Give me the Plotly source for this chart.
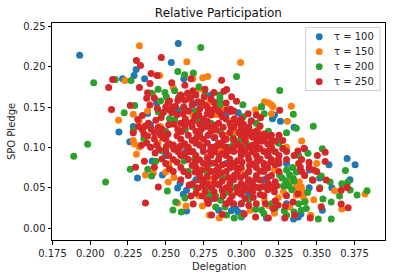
import plotly.graph_objects as go

TITLE = "Relative Participation"
XLABEL = "Delegation"
YLABEL = "SPO Pledge"
X_TICKS = [0.175, 0.200, 0.225, 0.250, 0.275, 0.300, 0.325, 0.350, 0.375]
Y_TICKS = [0.00, 0.05, 0.10, 0.15, 0.20, 0.25]
NAMES = ["τ = 100", "τ = 150", "τ = 200", "τ = 250"]
COLORS = ["#1f77b4", "#ff7f0e", "#2ca02c", "#d62728"]

tau100 = [(.193,.214),(.2583,.2286),(.2537,.205),(.2304,.1965),(.229,.189),(.2214,.185),(.236,.185),(.262,.185),
 (.219,.119),(.2313,.062),(.2478,.0656),(.2579,.0496),(.2638,.0212),(.2616,.0418),(.2638,.0467),
 (.3134,.1502),(.298,.1429),(.3207,.1354),(.3068,.1329),(.326,.1323),(.3701,.0862),(.3754,.0784),(.3581,.0784),
 (.3537,.022),(.3378,.0138),(.3347,.0113),(.3167,.0126),(.298,.02),(.3002,.0138),(.2285,.126),(.2262,.107),
 (.24,.128),(.246,.118),(.2475,.142),(.258,.146),(.264,.165),(.282,.112),(.29,.08),(.27,.06),(.28,.036),(.292,.032),
 (.295,.026),(.305,.042),(.315,.06),(.318,.09),(.33,.08),(.345,.072),(.342,.098),(.352,.062),(.29,.14),(.275,.128),
 (.262,.098),(.25,.09),(.238,.142),(.244,.155),(.31,.115),(.325,.11),(.335,.125),(.305,.07),(.36,.05),(.372,.06),
 (.285,.022),(.3,.03),(.33,.03),(.345,.05),(.241,.083),(.27,.155),(.28,.165),(.322,.14),
 (.3,.1215),(.2935,.0215),(.2965,.0235),(.301,.0185),(.3395,.0175),(.2665,.0535),(.2595,.0555),(.2575,.0975),(.2665,.1445)]

tau150 = [(.2326,.226),(.264,.206),(.223,.183),(.2188,.1335),(.246,.189),(.2996,.205),(.2745,.1862),(.2778,.1879),
 (.3332,.1508),(.3306,.1323),(.3154,.1564),(.318,.1552),(.32,.1527),(.3211,.1502),(.32,.1416),(.3095,.1465),
 (.382,.0422),(.3666,.0237),(.3618,.0463),(.322,.0183),(.2855,.0126),(.2789,.0163),(.2743,.0274),(.346,.0158),
 (.3321,.0261),(.3411,.0385),(.3398,.0508),(.2306,.0916),(.2293,.1043),(.2366,.0656),(.2517,.057),(.25,.0694),
 (.2634,.0274),(.2579,.0311),(.2418,.0681),(.268,.185),(.272,.172),(.2415,.166),(.2285,.141),(.238,.145),(.2465,.126),
 (.2325,.133),(.2505,.115),(.26,.1),(.252,.079),(.268,.14),(.2775,.153),(.287,.148),(.2945,.133),(.3,.128),(.303,.11),
 (.2915,.05),(.3,.045),(.315,.04),(.328,.045),(.336,.05),(.342,.065),(.318,.028),(.306,.022),(.35,.08),(.34,.108),
 (.33,.1),(.28,.06),(.272,.04),(.262,.16),(.255,.174),(.29,.115),(.312,.098),(.322,.072),(.271,.11),(.286,.098),
 (.3,.072),(.245,.105),(.333,.06),(.312,.05),(.348,.035),
 (.3405,.0455),(.3385,.0575),(.3425,.0335),(.3365,.0405),(.3155,.0335),(.3245,.0375),(.2795,.1565),(.2835,.1405),
 (.2285,.1085),(.2325,.1005),(.2555,.0625),(.2965,.1185),(.3115,.1235),(.3295,.0405)]

tau200 = [(.2732,.2237),(.2969,.1879),(.3255,.1706),(.3345,.141),(.3365,.1237),(.3477,.1261),(.2859,.1648),(.2859,.1605),
 (.2859,.1564),(.2859,.153),(.3011,.1527),(.3013,.138),(.3134,.1502),(.3152,.1416),(.2023,.18),(.258,.194),(.227,.183),
 (.2166,.184),(.2683,.192),(.2625,.19),(.1983,.1039),(.1891,.0891),(.2102,.057),(.2265,.073),(.2381,.073),(.2407,.0644),
 (.2511,.0459),(.2566,.0323),(.2548,.0224),(.2603,.02),(.2627,.0373),(.2434,.0829),(.2473,.0957),
 (.3537,.0982),(.369,.0714),(.3442,.0928),(.3833,.0463),(.3767,.041),(.3721,.0471),(.3706,.057),(.3666,.055),(.3596,.0323),
 (.3596,.0113),(.351,.0113),(.3651,.0397),(.3541,.036),(.353,.0644),(.3589,.057),(.342,.0323),(.3398,.022),(.3431,.0241),
 (.2954,.0126),(.2903,.0163),(.2831,.0261),(.2892,.0261),(.3095,.0233),(.2295,.152),(.2225,.143),(.2285,.121),(.2355,.111),
 (.245,.172),(.2405,.167),(.2495,.168),(.256,.17),(.2665,.163),(.272,.175),(.276,.166),(.245,.144),(.256,.134),
 (.263,.122),(.27,.145),(.28,.13),(.295,.105),(.3,.112),(.305,.122),(.255,.1),(.262,.083),(.272,.07),(.28,.08),(.288,.062),
 (.296,.05),(.305,.035),(.32,.03),(.328,.052),(.332,.066),(.335,.058),(.33,.072),(.327,.062),(.334,.075),(.338,.09),(.325,.105),
 (.318,.12),(.31,.13),(.33,.118),(.347,.06),(.352,.05),(.344,.044),(.338,.03),(.335,.02),(.33,.016),(.315,.018),(.3,.015),
 (.277,.05),(.283,.04),(.27,.05),(.265,.07),(.25,.12),(.286,.12),(.292,.1),
 (.3335,.0475),(.3295,.0585),(.3255,.0655),(.3365,.0695),(.3315,.0525),(.3345,.0615),(.2985,.1075),(.2945,.1115),(.3035,.1045),
 (.2525,.1355),(.2615,.1485),(.2715,.1335),(.2785,.0415),(.2865,.0345),(.2905,.0445),(.3135,.0225),(.3225,.0245),(.3285,.0215),
 (.2465,.1575),(.2505,.1625),(.2585,.1615),(.2695,.0865),(.2775,.0685)]

tau250 = [(.2306,.2076),(.2333,.2014),(.2471,.2113),(.2403,.1916),(.2443,.189),(.2148,.184),(.2122,.1743),(.2326,.1743),
 (.254,.18),(.2396,.179),(.2667,.185),(.2627,.177),(.2141,.147),(.2265,.152),(.2374,.1607),(.238,.1677),(.2425,.1607),
 (.287,.1833),(.3255,.1459),(.2903,.1718),(.2936,.1628),(.2969,.157),(.3046,.1416),(.3128,.1366),(.293,.1473),(.293,.1444),
 (.23,.0755),(.2339,.1027),(.2359,.0829),(.2425,.0755),(.2451,.0508),(.2366,.0311),(.2667,.0397),(.2682,.0298),
 (.3504,.0899),(.3556,.094),(.3556,.0825),(.3416,.099),(.3449,.0817),(.348,.0718),(.3391,.0755),(.3563,.0595),(.3519,.0488),
 (.3662,.0467),(.3701,.0504),(.3662,.0298),(.3708,.0253),(.353,.0265),(.3457,.0126),(.3354,.0163),(.3288,.0126),(.318,.0126),
 (.3095,.0138),(.302,.0175),(.2875,.0167),(.2804,.0163),(.2743,.0397),(.2782,.0303),(.3211,.0241),(.3244,.0286),(.3292,.0274),
 (.3343,.0323),(.3376,.0426),(.3475,.0591),(.342,.0652),
 (.2285,.118),(.232,.126),(.2345,.122),(.238,.114),(.2385,.13),(.2425,.118),(.247,.137),(.25,.15),(.254,.143),(.258,.158),
 (.262,.15),(.266,.16),(.27,.165),(.274,.155),(.278,.148),(.282,.156),(.272,.14),(.268,.132),(.263,.135),(.258,.122),(.252,.128),
 (.248,.112),(.244,.103),(.24,.1),(.243,.093),(.25,.096),(.255,.103),(.26,.11),(.265,.115),(.27,.12),(.275,.125),(.28,.12),
 (.285,.13),(.29,.135),(.295,.125),(.3,.135),(.305,.125),(.31,.12),(.315,.11),(.32,.115),(.325,.115),
 (.34,.085),(.335,.09),(.33,.095),(.325,.09),(.32,.1),(.315,.095),(.31,.105),(.305,.1),(.3,.115),(.295,.11),(.29,.11),(.285,.105),
 (.28,.1),(.275,.11),(.27,.105),(.265,.1),(.26,.09),(.255,.085),(.25,.08),(.255,.07),(.26,.075),(.265,.085),(.27,.09),(.275,.095),
 (.28,.09),(.285,.085),(.29,.09),(.295,.095),(.3,.09),(.305,.085),(.31,.09),(.315,.08),(.32,.085),(.325,.08),(.33,.085),
 (.3,.1),(.29,.1),(.31,.075),(.305,.07),(.3,.075),(.295,.08),(.29,.07),(.285,.075),(.28,.07),(.275,.08),(.27,.075),(.265,.065),
 (.26,.06),(.268,.055),(.275,.06),(.282,.055),(.29,.05),(.295,.06),(.3,.055),(.305,.06),(.31,.065),(.315,.07),(.32,.065),(.325,.07),
 (.318,.055),(.312,.05),(.306,.048),(.3,.042),(.294,.04),(.288,.04),(.282,.045),(.276,.045),(.27,.043),(.308,.038),(.315,.04),
 (.322,.045),(.33,.04),(.3,.03),(.295,.03),(.29,.03),(.305,.028),(.31,.03),(.316,.03),(.284,.065),(.3,.125),(.31,.14),
 (.28,.14),(.285,.145),(.275,.135),(.265,.145),(.26,.13),(.25,.11),(.245,.125),(.255,.15),(.26,.165),(.268,.17),(.276,.172),
 (.282,.168),(.28,.16),(.29,.155),(.295,.145),(.288,.125),(.278,.115),(.268,.095),(.258,.095),(.252,.09),(.262,.07),
 (.34,.07),(.345,.075),(.35,.07),(.338,.08),
 (.2675,.1255),(.2725,.1165),(.2775,.1055),(.2825,.1125),(.2875,.1155),(.2925,.1185),(.2975,.1045),(.3025,.1075),(.3075,.1125),
 (.3125,.1155),(.3175,.1045),(.3225,.1075),(.2725,.1025),(.2775,.0875),(.2825,.0945),(.2875,.0925),(.2925,.0855),(.2975,.0835),
 (.3025,.0955),(.3075,.0945),(.3125,.0855),(.3175,.0895),(.3225,.0945),(.3275,.0985),(.2675,.0775),(.2725,.0845),(.2775,.0745),
 (.2825,.0805),(.2875,.0785),(.2925,.0745),(.2975,.0695),(.3025,.0655),(.3075,.0795),(.3125,.0705),(.3175,.0745),(.3225,.0785),
 (.2725,.0655),(.2775,.0545),(.2825,.0625),(.2875,.0585),(.2925,.0555),(.2975,.0505),(.3025,.0515),(.3075,.0545),(.3125,.0595),
 (.3175,.0625),(.3225,.0575),(.2625,.1265),(.2575,.1145),(.2525,.1045),(.2625,.1045),(.2575,.0815),(.2525,.0735),(.2625,.0905),
 (.2675,.1085),(.2675,.0945),(.2725,.1285),(.2775,.1325),(.2825,.1275),(.2875,.1375),(.2925,.1295),(.2975,.1305),(.3025,.1205),
 (.3075,.1185),(.3125,.1265),(.3175,.1135),(.2575,.1405),(.2525,.1465),(.2625,.1585),(.2675,.1525),(.2725,.1475),(.2775,.1415),
 (.2825,.1485),(.2475,.1225),(.2425,.1105),(.2375,.1055),(.2475,.0855),(.2875,.1025),(.2925,.0965),(.3025,.1125),(.3075,.1025),
 (.3125,.0985),(.3275,.1085),(.3375,.0955),(.2825,.0365),(.2925,.0345),(.3025,.0365),(.3125,.0415),
 (.2775,.0345),(.2875,.0465),(.2975,.0445),(.3225,.0335),(.3175,.0475),(.3075,.0445),(.2715,.0495),(.2655,.0535),(.2885,.1695),
 (.2755,.1625),(.2645,.1675),(.2515,.1555),(.2445,.1485),(.2395,.1525),(.2345,.1395),(.2315,.1345),(.2435,.1335),(.2485,.1435),
 (.2705,.1125),(.2745,.1005),(.2795,.0955),(.2835,.1015),(.2855,.0895),(.2905,.0945),(.2955,.1015),(.2995,.0955),(.3045,.0905),
 (.3095,.0975),(.3135,.1075),(.3185,.0965),(.3205,.1075),(.3155,.1165),(.3105,.1105),(.3045,.1165),(.2985,.1185),(.2935,.1245),
 (.2885,.1095),(.2835,.1215),(.2785,.1255),(.2735,.1225),(.2695,.1385),(.2645,.1305),(.2605,.1195),(.2555,.1285),(.2515,.1165),
 (.2555,.0975),(.2595,.1015),(.2645,.0945),(.2695,.0815),(.2735,.0715),(.2785,.0815),(.2835,.0715),(.2865,.0685),(.2915,.0795),
 (.2965,.0755),(.3005,.0815),(.3055,.0775),(.3105,.0825),(.3155,.0765),(.3195,.0815),(.3245,.0845),(.2695,.0695),(.2745,.0525),
 (.2805,.0495),(.2855,.0535),(.2915,.0625),(.2955,.0655),(.2995,.0625),(.3045,.0565),(.3095,.0605),(.3145,.0515),(.3205,.0505),
 (.2725,.0595),(.2775,.0635),(.2835,.0545),(.2925,.0475),(.3015,.0465),(.3095,.0505),(.3235,.0525),(.2665,.1605),
 (.2715,.1565),(.2765,.1515),(.2805,.1455),(.2865,.1415),(.2905,.1465),(.2955,.1355),(.3015,.1285),(.3065,.1325),(.2615,.1415),
 (.2565,.1505),(.2525,.1575),(.2595,.1635),(.2465,.1155),(.2505,.1015),(.2455,.0975),(.2355,.1165),(.2405,.1225),(.2365,.1265)]

fig = go.Figure()
for name, color, pts in zip(NAMES, COLORS, [tau100, tau150, tau200, tau250]):
    fig.add_trace(go.Scatter(
        x=[p[0] for p in pts], y=[p[1] for p in pts], mode="markers", name=name,
        marker=dict(color=color, size=7, line=dict(width=0)), showlegend=False,
    ))

# legend drawn in paper coordinates, spacing tighter than Plotly's own legend permits
W, H = 396, 278
L, R, T, B = 51.5, 10.7, 22.7, 37.7
PW, PH = W - L - R, H - T - B
def px(v): return (v - L) / PW
def py(v): return (H - B - v) / PH

shapes = [dict(type="rect", xref="paper", yref="paper", x0=px(305.7), x1=px(380.3), y0=py(90.3), y1=py(27.3),
               line=dict(color="#cccccc", width=1), fillcolor="rgba(255,255,255,0.8)", layer="above")]
annotations = [
    dict(text=YLABEL, xref="paper", yref="paper", x=px(11), y=py(131.5), showarrow=False, textangle=-90,
         font=dict(size=10, color="#262626"), xanchor="center", yanchor="middle"),
    dict(text=XLABEL, xref="paper", yref="paper", x=px(218.5), y=py(267), showarrow=False,
         font=dict(size=10, color="#262626"), xanchor="center", yanchor="middle"),
]
for i, (name, color) in enumerate(zip(NAMES, COLORS)):
    cy = 36.5 + i * 15
    shapes.append(dict(type="circle", xref="paper", yref="paper", x0=px(316), x1=px(322.8),
                       y0=py(cy + 3.4), y1=py(cy - 3.4), fillcolor=color, line=dict(width=0), layer="above"))
    annotations.append(dict(text=name, xref="paper", yref="paper", x=px(376.5), y=py(cy), showarrow=False,
                            xanchor="right", yanchor="middle", font=dict(size=10, color="#262626")))

axis_common = dict(showgrid=False, zeroline=False, showline=True, linecolor="black", linewidth=1,
                   mirror=True, ticks="outside", ticklen=3.5, tickwidth=1, tickcolor="black", automargin=False,
                   tickfont=dict(size=10, color="#262626"))
fig.update_layout(
    width=W, height=H, margin=dict(l=L, r=R, t=T, b=B, pad=0),
    autosize=False, paper_bgcolor="white", plot_bgcolor="white", showlegend=False,
    font=dict(family="DejaVu Sans", color="#262626", size=10),
    title=dict(text=TITLE, font=dict(size=12, color="#111111"), x=(L + PW / 2) / W, xref="container", xanchor="center",
               y=1 - 12.5 / H, yref="container", yanchor="middle", automargin=False),
    xaxis=dict(range=[0.1747, 0.3952], tickvals=X_TICKS, ticktext=[f"{v:.3f}" for v in X_TICKS], **axis_common),
    yaxis=dict(range=[-0.0148, 0.2541], tickvals=Y_TICKS, ticktext=[f"{v:.2f}" for v in Y_TICKS], **axis_common),
    shapes=shapes, annotations=annotations,
)
fig.write_html("out.html", config={"displayModeBar": False},
               post_script="document.body.style.margin='0';document.documentElement.style.overflow='hidden';")
